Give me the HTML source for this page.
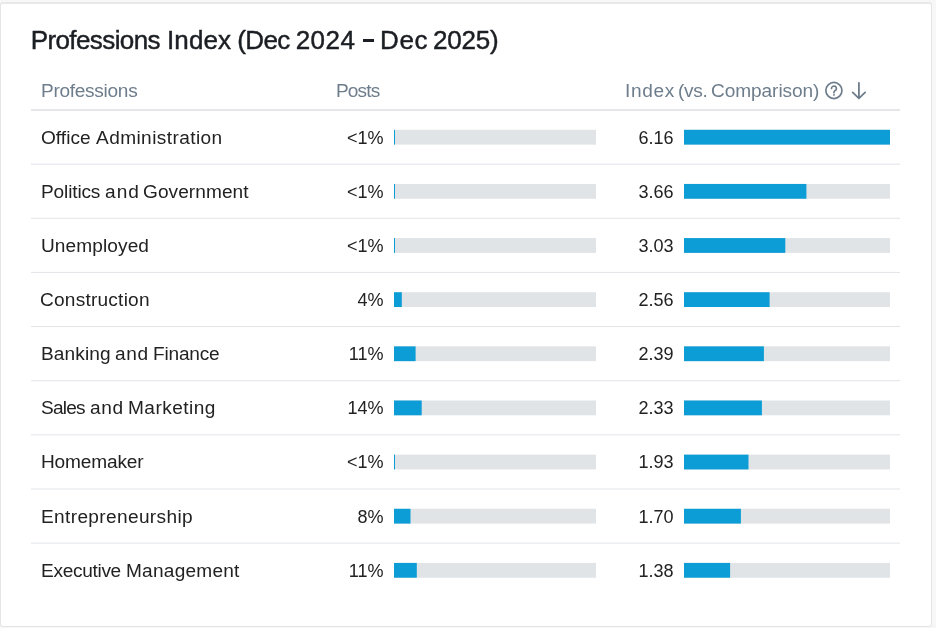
<!DOCTYPE html>
<html><head><meta charset="utf-8"><title>Professions Index</title>
<style>
html,body{margin:0;padding:0;}
body{width:936px;height:628px;background:#f7f7f7;overflow:hidden;font-family:"Liberation Sans",sans-serif;position:relative;}
.card{position:absolute;left:0;top:2px;width:930px;height:622px;background:#fff;border:1px solid #e5e5e5;border-top:2px solid #e8e8e8;border-radius:3px;}
.layer{position:absolute;left:0;top:0;width:936px;height:628px;will-change:transform;}
.title{position:absolute;top:24.8px;font-size:26px;line-height:30px;color:#1b1e22;white-space:nowrap;-webkit-text-stroke:0.45px #1b1e22;}
.h{position:absolute;top:80px;font-size:17.5px;line-height:22px;color:#6d7d8c;white-space:nowrap;}
.t{position:absolute;font-size:17.5px;line-height:22px;color:#222;white-space:nowrap;}
.w{transform-origin:0 0;transform:scaleX(1.09);}
.r{text-align:right;transform-origin:100% 0;transform:scaleX(1.03);}
svg{position:absolute;}
</style></head><body>
<div class="card"></div>
<div class="layer">
<div class="title" style="left:30.65px;letter-spacing:-0.592px">Professions</div>
<div class="title" style="left:166.97px;letter-spacing:0.134px">Index</div>
<div class="title" style="left:237.14px;letter-spacing:-0.564px">(Dec</div>
<div class="title" style="left:295.67px;letter-spacing:0.506px">2024</div>
<div class="title" style="left:379.99px;letter-spacing:0.697px">Dec</div>
<div class="title" style="left:433.11px;letter-spacing:-0.261px">2025)</div>
<div class="h w" style="left:41.26px;letter-spacing:-0.273px">Professions</div>
<div class="h w" style="left:335.76px;letter-spacing:-0.785px">Posts</div>
<div class="h w" style="left:624.97px;letter-spacing:0.610px">Index</div>
<div class="h w" style="left:677.84px;letter-spacing:-0.286px">(vs.</div>
<div class="h w" style="left:711.14px;letter-spacing:-0.069px">Comparison)</div>
<div class="t w" style="left:40.56px;letter-spacing:0.015px;top:126.60px">Office</div>
<div class="t w" style="left:95.67px;letter-spacing:0.378px;top:126.60px">Administration</div>
<div class="t w" style="left:40.71px;letter-spacing:-0.134px;top:180.74px">Politics</div>
<div class="t w" style="left:104.65px;letter-spacing:0.945px;top:180.74px">and</div>
<div class="t w" style="left:142.61px;letter-spacing:0.060px;top:180.74px">Government</div>
<div class="t w" style="left:40.87px;letter-spacing:0.087px;top:234.88px">Unemployed</div>
<div class="t w" style="left:40.09px;letter-spacing:0.204px;top:289.02px">Construction</div>
<div class="t w" style="left:40.55px;letter-spacing:0.121px;top:343.16px">Banking</div>
<div class="t w" style="left:115.48px;letter-spacing:0.551px;top:343.16px">and</div>
<div class="t w" style="left:153.34px;letter-spacing:-0.183px;top:343.16px">Finance</div>
<div class="t w" style="left:40.80px;letter-spacing:-0.703px;top:397.30px">Sales</div>
<div class="t w" style="left:89.84px;letter-spacing:0.637px;top:397.30px">and</div>
<div class="t w" style="left:127.63px;letter-spacing:0.415px;top:397.30px">Marketing</div>
<div class="t w" style="left:40.60px;letter-spacing:-0.140px;top:451.44px">Homemaker</div>
<div class="t w" style="left:40.93px;letter-spacing:0.324px;top:505.58px">Entrepreneurship</div>
<div class="t w" style="left:40.67px;letter-spacing:-0.285px;top:559.72px">Executive</div>
<div class="t w" style="left:125.83px;letter-spacing:0.210px;top:559.72px">Management</div>
<div style="position:absolute;left:363.2px;top:39.2px;width:10.5px;height:2.9px;background:#1b1e22"></div>
<svg style="left:824px;top:81px" width="20" height="20" viewBox="0 0 20 20" fill="none" stroke="#6d7d8c" stroke-width="1.7" stroke-linecap="round" stroke-linejoin="round"><circle cx="9.9" cy="9.5" r="8.05"/><path d="M7.5 7.5a2.45 2.45 0 1 1 3.7 2.1c-.85.5-1.25 1.05-1.25 2.1"/><circle cx="9.95" cy="13.9" r="0.95" fill="#6d7d8c" stroke="none"/></svg>
<svg style="left:849px;top:80px" width="20" height="20" viewBox="0 0 20 20" fill="none" stroke="#6d7d8c" stroke-width="1.8" stroke-linecap="round" stroke-linejoin="round"><path d="M9.9 2.8V18M3.7 12.4L9.9 18.3L16.1 12.4"/></svg>
<div class="t r" style="left:330px;width:53.5px;top:126.60px">&lt;1%</div>
<div class="t r" style="left:620px;width:53.5px;top:126.60px">6.16</div>
<div class="t r" style="left:330px;width:53.5px;top:180.74px">&lt;1%</div>
<div class="t r" style="left:620px;width:53.5px;top:180.74px">3.66</div>
<div class="t r" style="left:330px;width:53.5px;top:234.88px">&lt;1%</div>
<div class="t r" style="left:620px;width:53.5px;top:234.88px">3.03</div>
<div class="t r" style="left:330px;width:53.5px;top:289.02px">4%</div>
<div class="t r" style="left:620px;width:53.5px;top:289.02px">2.56</div>
<div class="t r" style="left:330px;width:53.5px;top:343.16px">11%</div>
<div class="t r" style="left:620px;width:53.5px;top:343.16px">2.39</div>
<div class="t r" style="left:330px;width:53.5px;top:397.30px">14%</div>
<div class="t r" style="left:620px;width:53.5px;top:397.30px">2.33</div>
<div class="t r" style="left:330px;width:53.5px;top:451.44px">&lt;1%</div>
<div class="t r" style="left:620px;width:53.5px;top:451.44px">1.93</div>
<div class="t r" style="left:330px;width:53.5px;top:505.58px">8%</div>
<div class="t r" style="left:620px;width:53.5px;top:505.58px">1.70</div>
<div class="t r" style="left:330px;width:53.5px;top:559.72px">11%</div>
<div class="t r" style="left:620px;width:53.5px;top:559.72px">1.38</div>
<svg style="left:0;top:0" width="936" height="628" viewBox="0 0 936 628">
<rect x="31" y="109.5" width="869" height="1" fill="#c9ced4"/>
<rect x="394" y="129.80" width="202" height="14.8" fill="#e0e4e7"/><rect x="394" y="129.80" width="1.0" height="14.8" fill="#0d9dd6"/>
<rect x="684" y="129.80" width="206" height="14.8" fill="#e0e4e7"/><rect x="684" y="129.80" width="206.0" height="14.8" fill="#0d9dd6"/>
<rect x="31" y="163.64" width="869" height="1" fill="#e2e4e8"/>
<rect x="394" y="183.94" width="202" height="14.8" fill="#e0e4e7"/><rect x="394" y="183.94" width="1.0" height="14.8" fill="#0d9dd6"/>
<rect x="684" y="183.94" width="206" height="14.8" fill="#e0e4e7"/><rect x="684" y="183.94" width="122.4" height="14.8" fill="#0d9dd6"/>
<rect x="31" y="217.78" width="869" height="1" fill="#e2e4e8"/>
<rect x="394" y="238.08" width="202" height="14.8" fill="#e0e4e7"/><rect x="394" y="238.08" width="1.0" height="14.8" fill="#0d9dd6"/>
<rect x="684" y="238.08" width="206" height="14.8" fill="#e0e4e7"/><rect x="684" y="238.08" width="101.3" height="14.8" fill="#0d9dd6"/>
<rect x="31" y="271.92" width="869" height="1" fill="#e2e4e8"/>
<rect x="394" y="292.22" width="202" height="14.8" fill="#e0e4e7"/><rect x="394" y="292.22" width="7.8" height="14.8" fill="#0d9dd6"/>
<rect x="684" y="292.22" width="206" height="14.8" fill="#e0e4e7"/><rect x="684" y="292.22" width="85.6" height="14.8" fill="#0d9dd6"/>
<rect x="31" y="326.06" width="869" height="1" fill="#e2e4e8"/>
<rect x="394" y="346.36" width="202" height="14.8" fill="#e0e4e7"/><rect x="394" y="346.36" width="21.6" height="14.8" fill="#0d9dd6"/>
<rect x="684" y="346.36" width="206" height="14.8" fill="#e0e4e7"/><rect x="684" y="346.36" width="79.9" height="14.8" fill="#0d9dd6"/>
<rect x="31" y="380.20" width="869" height="1" fill="#e2e4e8"/>
<rect x="394" y="400.50" width="202" height="14.8" fill="#e0e4e7"/><rect x="394" y="400.50" width="27.7" height="14.8" fill="#0d9dd6"/>
<rect x="684" y="400.50" width="206" height="14.8" fill="#e0e4e7"/><rect x="684" y="400.50" width="77.9" height="14.8" fill="#0d9dd6"/>
<rect x="31" y="434.34" width="869" height="1" fill="#e2e4e8"/>
<rect x="394" y="454.64" width="202" height="14.8" fill="#e0e4e7"/><rect x="394" y="454.64" width="1.0" height="14.8" fill="#0d9dd6"/>
<rect x="684" y="454.64" width="206" height="14.8" fill="#e0e4e7"/><rect x="684" y="454.64" width="64.5" height="14.8" fill="#0d9dd6"/>
<rect x="31" y="488.48" width="869" height="1" fill="#e2e4e8"/>
<rect x="394" y="508.78" width="202" height="14.8" fill="#e0e4e7"/><rect x="394" y="508.78" width="16.5" height="14.8" fill="#0d9dd6"/>
<rect x="684" y="508.78" width="206" height="14.8" fill="#e0e4e7"/><rect x="684" y="508.78" width="56.9" height="14.8" fill="#0d9dd6"/>
<rect x="31" y="542.62" width="869" height="1" fill="#e2e4e8"/>
<rect x="394" y="562.92" width="202" height="14.8" fill="#e0e4e7"/><rect x="394" y="562.92" width="22.8" height="14.8" fill="#0d9dd6"/>
<rect x="684" y="562.92" width="206" height="14.8" fill="#e0e4e7"/><rect x="684" y="562.92" width="46.1" height="14.8" fill="#0d9dd6"/>
</svg>
</div></body></html>
